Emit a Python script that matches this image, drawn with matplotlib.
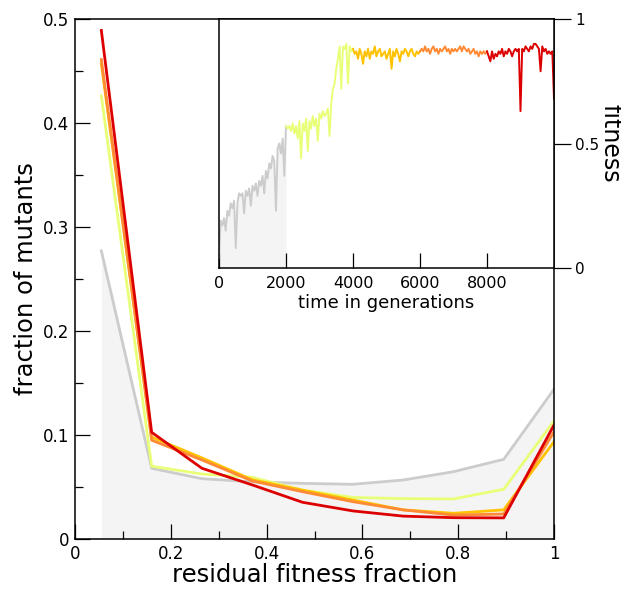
import numpy as np
import matplotlib
matplotlib.use('Agg')
import matplotlib.pyplot as plt
from matplotlib.ticker import MultipleLocator, FuncFormatter

# ---------------- data ----------------
bins = [0.055, 0.16, 0.265, 0.37, 0.475, 0.58, 0.685, 0.79, 0.895, 1.0]
frac_p1 = [0.277, 0.068, 0.058, 0.055, 0.0535, 0.0526, 0.0567, 0.0647, 0.0766, 0.144]
frac_p2 = [0.426, 0.070, 0.0625, 0.0593, 0.047, 0.040, 0.0388, 0.0385, 0.0478, 0.1135]
frac_p3 = [0.457, 0.098, 0.078, 0.057, 0.047, 0.0375, 0.028, 0.0247, 0.0280, 0.0936]
frac_p4 = [0.461, 0.095, 0.076, 0.0558, 0.0455, 0.0359, 0.028, 0.023, 0.0240, 0.103]
frac_p5 = [0.489, 0.1026, 0.068, 0.052, 0.0353, 0.027, 0.022, 0.0205, 0.0203, 0.1096]

fit_p1 = [0.04, 0.19, 0.17, 0.20, 0.15, 0.23, 0.21, 0.26, 0.24, 0.27, 0.08,
          0.26, 0.30, 0.29, 0.30, 0.22, 0.31, 0.29, 0.32, 0.25, 0.33, 0.31,
          0.34, 0.29, 0.35, 0.33, 0.37, 0.30, 0.39, 0.36, 0.42, 0.40, 0.45,
          0.43, 0.23, 0.48, 0.50, 0.46, 0.52, 0.37, 0.57]
fit_p2 = [0.57, 0.56, 0.57, 0.55, 0.58, 0.54, 0.57, 0.52, 0.59, 0.44, 0.58,
          0.55, 0.60, 0.47, 0.59, 0.56, 0.61, 0.57, 0.60, 0.51, 0.62, 0.60,
          0.63, 0.61, 0.62, 0.64, 0.53, 0.66, 0.72, 0.74, 0.80, 0.84, 0.89,
          0.72, 0.89, 0.88, 0.90, 0.74, 0.89, 0.87, 0.88]
fit_p3 = [0.88, 0.86, 0.87, 0.84, 0.88, 0.86, 0.82, 0.87, 0.85, 0.88, 0.84,
          0.87, 0.86, 0.89, 0.85, 0.87, 0.88, 0.85, 0.86, 0.87, 0.84, 0.86,
          0.88, 0.80, 0.87, 0.85, 0.88, 0.86, 0.83, 0.87, 0.86, 0.88, 0.87,
          0.85, 0.87, 0.88, 0.86, 0.85, 0.87, 0.86, 0.87]
fit_p4 = [0.87, 0.88, 0.87, 0.89, 0.87, 0.88, 0.86, 0.88, 0.89, 0.87, 0.88,
          0.86, 0.88, 0.87, 0.88, 0.89, 0.87, 0.88, 0.86, 0.88, 0.87, 0.88,
          0.87, 0.88, 0.89, 0.87, 0.89, 0.88, 0.87, 0.88, 0.86, 0.87, 0.88,
          0.86, 0.87, 0.85, 0.87, 0.86, 0.87, 0.86, 0.87]
fit_p5 = [0.87, 0.85, 0.83, 0.87, 0.84, 0.86, 0.85, 0.87, 0.86, 0.88, 0.85,
          0.87, 0.86, 0.88, 0.87, 0.85, 0.87, 0.88, 0.87, 0.88, 0.63, 0.88,
          0.87, 0.89, 0.88, 0.87, 0.89, 0.88, 0.90, 0.90, 0.89, 0.88, 0.79,
          0.89, 0.87, 0.88, 0.86, 0.87, 0.86, 0.87, 0.68]
period_edges = [0, 2000, 4000, 6000, 8000, 10000]

colors = ['#cccccc', '#e8ff78', '#ffc200', '#ff8a35', '#dd0000']
fill_color = '#f4f4f4'

fracs = [frac_p1, frac_p2, frac_p3, frac_p4, frac_p5]
fits = [fit_p1, fit_p2, fit_p3, fit_p4, fit_p5]

# ---------------- figure ----------------
fig = plt.figure(figsize=(6.21, 5.89), dpi=100)
ax = fig.add_axes([75/621, 50/589, 479/621, 520/589])

ax.fill_between(bins, 0, frac_p1, color=fill_color, lw=0, zorder=1)
for f, c in zip(fracs, colors):
    ax.plot(bins, f, color=c, lw=2.0, zorder=2)

ax.set_xlim(0, 1)
ax.set_ylim(0, 0.5)
ax.xaxis.set_major_locator(MultipleLocator(0.2))
ax.xaxis.set_minor_locator(MultipleLocator(0.1))
ax.yaxis.set_major_locator(MultipleLocator(0.1))
ax.yaxis.set_minor_locator(MultipleLocator(0.05))
fmt = FuncFormatter(lambda v, p: '%g' % round(v, 3))
ax.xaxis.set_major_formatter(fmt)
ax.yaxis.set_major_formatter(fmt)
ax.tick_params(which='both', direction='in', top=False, right=False, width=0.9,
               labelsize=12)
ax.tick_params(which='major', length=11, pad=4)
ax.tick_params(which='minor', length=6)
for s in ax.spines.values():
    s.set_linewidth(1.1)
ax.set_xlabel('residual fitness fraction', fontsize=17.5, labelpad=0)
ax.set_ylabel('fraction of mutants', fontsize=17.5, labelpad=4)

# ---------------- inset ----------------
axi = fig.add_axes([219/621, 321/589, 335/621, 249/589])
axi.set_facecolor('white')
t0, t1 = period_edges[0], period_edges[1]
tt = np.linspace(t0, t1, len(fit_p1))
axi.fill_between(tt, 0, fit_p1, color=fill_color, lw=0, zorder=1)
for i, (f, c) in enumerate(zip(fits, colors)):
    t = np.linspace(period_edges[i], period_edges[i + 1], len(f))
    axi.plot(t, f, color=c, lw=1.4, zorder=2)
axi.set_xlim(0, 10000)
axi.set_ylim(0, 1)
axi.set_xticks([0, 2000, 4000, 6000, 8000])
axi.set_yticks([0, 0.5, 1])
axi.yaxis.set_major_formatter(fmt)
axi.yaxis.tick_right()
axi.yaxis.set_label_position('right')
axi.tick_params(axis='x', direction='in', length=11, width=0.9, labelsize=11.5, pad=6)
axi.tick_params(axis='y', direction='out', length=12, width=0.9, labelsize=11, pad=3)
for s in axi.spines.values():
    s.set_linewidth(1.1)
axi.set_xlabel('time in generations', fontsize=13, labelpad=2)
axi.set_ylabel('fitness', fontsize=17, rotation=270, va='center', ha='center')
axi.yaxis.set_label_coords(1.168, 0.5)

fig.savefig('out.png', dpi=100)
